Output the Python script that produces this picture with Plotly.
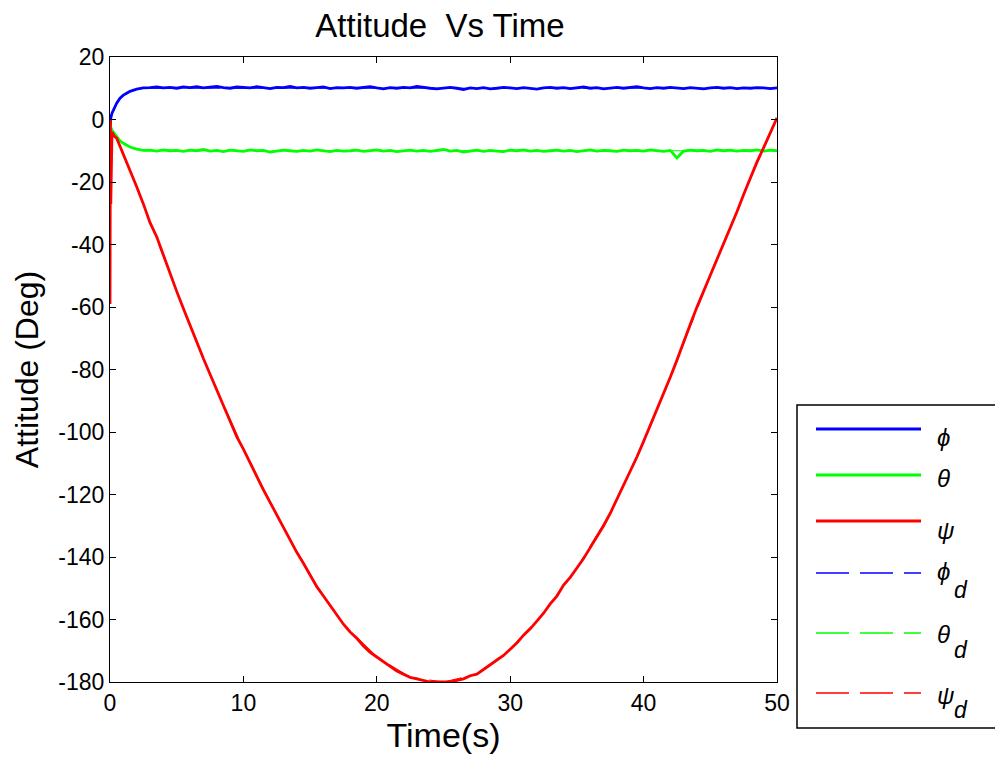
import plotly.graph_objects as go

# ---------------- data ----------------
time_early = [0.0, 0.03, 0.06, 0.15, 0.35, 0.5, 0.75, 1.0, 1.25, 1.5, 2.0, 2.5]
time_main = [3.0 + 0.5 * i for i in range(95)]  # 3.0 .. 50.0 s sampling grid

phi_early = [-4.0, -1.0, 0.5, 2.0, 4.0, 5.2, 6.8, 7.8, 8.4, 9.0, 9.7, 10.1]
phi_main = [
    10.2, 10.4, 10.1, 10.3, 10.0, 10.4, 10.2, 10.5, 10.1, 10.3,
    10.6, 10.2, 10.0, 10.4, 10.3, 10.1, 10.5, 10.2, 9.9, 10.3,
    10.2, 10.6, 10.1, 10.3, 10.0, 10.2, 10.4, 9.9, 10.2, 10.1,
    10.3, 10.0, 10.2, 10.5, 10.1, 9.8, 10.2, 10.0, 10.3, 10.1,
    10.6, 10.2, 10.0, 9.8, 10.1, 10.3, 10.0, 9.6, 10.1, 9.9,
    10.2, 9.8, 10.0, 10.3, 10.1, 9.9, 10.2, 10.0, 9.7, 10.1,
    10.3, 10.0, 10.2, 9.9, 10.1, 10.4, 10.0, 10.2, 9.8, 10.1,
    10.3, 10.0, 10.2, 10.5, 10.1, 9.9, 10.2, 10.0, 10.3, 10.1,
    9.9, 10.2, 10.0, 9.8, 10.1, 10.3, 10.0, 10.2, 9.9, 10.1,
    10.0, 10.2, 10.1, 9.9, 10.1,
]

theta_early = [-9.5, -1.5, -2.5, -3.5, -4.5, -5.5, -6.8, -7.6, -8.2, -8.8, -9.5, -9.9]
theta_main = [
    -9.8, -10.1, -9.7, -10.0, -9.9, -10.2, -9.8, -10.0, -9.6, -10.1,
    -9.9, -10.3, -9.8, -10.0, -10.2, -9.7, -10.0, -9.9, -10.4, -10.1,
    -9.8, -10.0, -10.2, -9.9, -10.1, -9.7, -10.0, -10.3, -9.9, -10.1,
    -10.0, -9.8, -10.2, -10.0, -9.7, -10.1, -9.9, -10.3, -10.0, -9.8,
    -10.1, -9.9, -10.2, -10.0, -9.6, -10.1, -9.9, -10.4, -10.0, -9.8,
    -10.2, -9.9, -10.1, -10.3, -9.8, -10.0, -9.7, -10.1, -9.9, -10.2,
    -10.0, -9.8, -10.1, -9.9, -10.3, -10.0, -9.7, -10.1, -9.9, -10.0,
    -10.2, -9.8, -10.0, -9.9, -10.1, -9.7, -10.0, -10.2, -9.9, -12.3,
    -10.1, -9.8, -10.0, -9.9, -10.2, -9.7, -10.0, -9.8, -10.1, -9.9,
    -10.0, -9.7, -10.1, -9.8, -10.0,
]

psi_early = [-59.0, 0.0, -27.0, -4.0, -5.5, -6.0, -8.5, -11.5, -14.0, -16.0, -21.5, -27.0]
psi_main = [
    -33.0, -37.5, -43.5, -49.0, -55.0, -60.5, -66.0, -71.0, -76.5, -81.5,
    -86.5, -91.5, -96.5, -101.5, -105.5, -110.0, -114.5, -118.5, -122.5, -126.5,
    -131.0, -134.5, -138.5, -142.0, -146.0, -149.5, -152.5, -155.5, -158.5, -161.5,
    -164.0, -166.0, -168.5, -170.5, -172.0, -173.5, -175.0, -176.5, -177.5, -178.5,
    -179.0, -179.5, -180.0, -180.0, -180.0, -180.0, -179.5, -179.0, -178.0, -177.5,
    -176.0, -174.5, -173.0, -171.5, -169.5, -167.5, -165.0, -163.0, -160.5, -158.0,
    -155.0, -152.5, -149.0, -146.5, -143.5, -140.5, -137.0, -133.5, -130.0, -126.0,
    -121.5, -117.5, -113.0, -108.0, -103.0, -98.0, -93.0, -87.5, -82.5, -77.0,
    -71.0, -65.5, -60.0, -55.0, -50.0, -45.0, -40.0, -35.0, -29.5, -24.0,
    -18.5, -13.5, -9.0, -4.0, 0.5,
]

# desired signals (hidden under the measured ones in the reference)
time_d = [2.5, 5.0, 7.5, 10.0, 12.5, 15.0, 17.5, 20.0, 22.5, 25.0,
          27.5, 30.0, 32.5, 35.0, 37.5, 40.0, 42.5, 45.0, 47.5, 50.0]
phi_d = [10.0] * 20
theta_d = [-10.0] * 20
psi_d = [-27.0, -55.0, -81.5, -105.5, -126.5, -146.0, -161.5, -172.0, -178.5, -180.0,
         -177.5, -169.5, -158.0, -143.5, -126.0, -103.0, -77.0, -50.0, -24.0, 0.5]

x_ticks = [0, 10, 20, 30, 40, 50]
y_ticks = [-180, -160, -140, -120, -100, -80, -60, -40, -20, 0, 20]

# ---------------- figure ----------------
W, H = 995, 763
ML, MR, MT, MB = 110, 218, 57, 81
PW, PH = W - ML - MR, H - MT - MB
FONT = "Liberation Sans, Arial, sans-serif"

BLUE, GREEN, RED = "#0000FF", "#00FF00", "#FF0000"

time_all = time_early + time_main
fig = go.Figure()
for name, y, c in [("phi_d", phi_d, BLUE), ("theta_d", theta_d, GREEN), ("psi_d", psi_d, RED)]:
    fig.add_trace(go.Scatter(x=time_d, y=y, mode="lines", name=name, showlegend=False,
                             line=dict(color=c, width=1.2, dash="33px,11px")))
for name, y, c in [("phi", phi_early + phi_main, BLUE),
                   ("theta", theta_early + theta_main, GREEN),
                   ("psi", psi_early + psi_main, RED)]:
    fig.add_trace(go.Scatter(x=time_all, y=y, mode="lines", name=name, showlegend=False,
                             line=dict(color=c, width=2.8)))


def px_x(p):
    return (p - ML) / PW


def px_y(p):
    return (H - MB - p) / PH


shapes = []
annotations = []
shapes.append(dict(type="rect", xref="paper", yref="paper",
                   x0=px_x(797), x1=px_x(1010), y0=px_y(728), y1=px_y(405),
                   line=dict(color="black", width=1.5), fillcolor="white", layer="above"))
legend_items = [
    ("ϕ", BLUE, 429, 438, None, False),
    ("θ", GREEN, 475, 478, None, False),
    ("ψ", RED, 521, 530, None, False),
    ("ϕ", BLUE, 573, 571, 590, True),
    ("θ", GREEN, 633, 634, 650, True),
    ("ψ", RED, 693, 695, 710, True),
]
for sym, col, ly, ty, dy, dashed in legend_items:
    shapes.append(dict(type="line", xref="paper", yref="paper",
                       x0=px_x(816), x1=px_x(921), y0=px_y(ly), y1=px_y(ly),
                       line=dict(color=col, width=1.5 if dashed else 3,
                                 dash="33px,11px" if dashed else "solid")))
    annotations.append(dict(xref="paper", yref="paper", x=px_x(935), y=px_y(ty),
                            xanchor="left", yanchor="middle", showarrow=False,
                            text="<i>" + sym + "</i>",
                            font=dict(family=FONT, size=24, color="black")))
    if dy is not None:
        annotations.append(dict(xref="paper", yref="paper", x=px_x(952), y=px_y(dy),
                                xanchor="left", yanchor="middle", showarrow=False,
                                text="<i>d</i>",
                                font=dict(family=FONT, size=23, color="black")))

axis_common = dict(showgrid=False, zeroline=False, showline=True, linecolor="black",
                   linewidth=1.2, mirror="ticks", ticks="inside", ticklen=6,
                   tickcolor="black", tickwidth=1,
                   tickfont=dict(family=FONT, size=23, color="black"))

fig.update_layout(
    width=W, height=H,
    margin=dict(l=ML, r=MR, t=MT, b=MB, pad=0),
    paper_bgcolor="white", plot_bgcolor="white",
    showlegend=False,
    title=dict(text="Attitude\u00a0 Vs Time", x=px_x(440), xref="paper", xanchor="center",
               y=1 - 25 / H, yref="container", yanchor="middle",
               font=dict(family=FONT, size=33, color="black")),
    xaxis=dict(range=[0, 50], tickvals=x_ticks, ticktext=[str(v) for v in x_ticks],
               title=dict(text="Time(s)", font=dict(family=FONT, size=34, color="black"),
                          standoff=8),
               **axis_common),
    yaxis=dict(range=[-180, 20], tickvals=y_ticks, ticktext=[str(v) for v in y_ticks],
               title=dict(text="Attitude (Deg)", font=dict(family=FONT, size=32, color="black"),
                          standoff=10),
               **axis_common),
    shapes=shapes,
    annotations=annotations,
)

fig.write_html("out.html")
